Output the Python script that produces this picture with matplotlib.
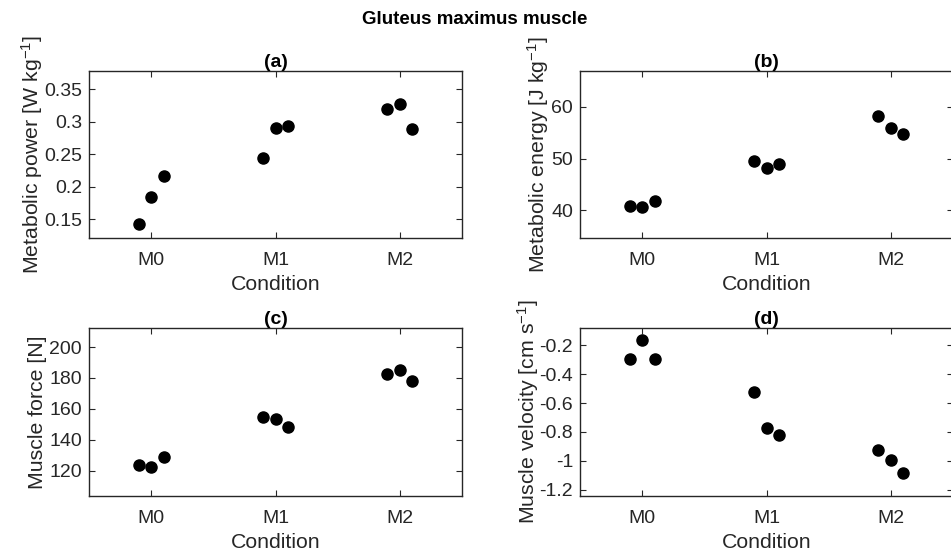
import matplotlib
matplotlib.use("Agg")
import matplotlib.pyplot as plt
import numpy as np

plt.rcParams['font.family'] = ['Liberation Sans', 'DejaVu Sans']
plt.rcParams['mathtext.default'] = 'regular'

conditions = ['M0', 'M1', 'M2']
offsets = [-0.1, 0.0, 0.1]

power = [[0.143, 0.184, 0.217], [0.245, 0.291, 0.294], [0.319, 0.328, 0.289]]
energy = [[40.8, 40.65, 41.75], [49.6, 48.1, 48.9], [58.2, 55.9, 54.7]]
force = [[123.7, 122.0, 128.9], [155.0, 153.3, 148.0], [182.8, 185.0, 178.0]]
velocity = [[-0.293, -0.163, -0.293], [-0.525, -0.773, -0.82], [-0.926, -0.993, -1.084]]

panels = [
    ('(a)', power, 'Metabolic power [W kg$^{-1}$]', (0.1214, 0.378), [0.15, 0.2, 0.25, 0.3, 0.35],
     ['0.15', '0.2', '0.25', '0.3', '0.35']),
    ('(b)', energy, 'Metabolic energy [J kg$^{-1}$]', (34.6, 66.97), [40, 50, 60], ['40', '50', '60']),
    ('(c)', force, 'Muscle force [N]', (103.5, 212.4), [120, 140, 160, 180, 200],
     ['120', '140', '160', '180', '200']),
    ('(d)', velocity, 'Muscle velocity [cm s$^{-1}$]', (-1.242, -0.082), [-1.2, -1, -0.8, -0.6, -0.4, -0.2],
     ['-1.2', '-1', '-0.8', '-0.6', '-0.4', '-0.2']),
]

W, H = 951, 551
fig = plt.figure(figsize=(W / 100, H / 100), dpi=100)
# axes boxes in pixels: left, top, right, bottom
boxes = [(89, 71, 462, 238), (580, 71, 953, 238), (89, 328, 462, 496), (580, 328, 953, 496)]
ylabel_x = [32, 538, 38, 528]
tc = '#262626'
for (title, data, ylabel, ylim, yt, ytl), (l, t, r, b), yx in zip(panels, boxes, ylabel_x):
    ax = fig.add_axes([l / W, 1 - b / H, (r - l) / W, (b - t) / H])
    for i, vals in enumerate(data):
        xs = [i + o for o in offsets]
        ax.plot(xs, vals, 'o', color='black', markersize=8, linestyle='none')
    ax.set_xlim(-0.5, 2.5)
    ax.set_ylim(*ylim)
    ax.set_xticks(range(len(conditions)))
    ax.set_xticklabels(conditions)
    ax.set_yticks(yt)
    ax.set_yticklabels(ytl)
    ax.tick_params(direction='in', top=True, right=True, labelsize=14, colors=tc,
                   length=4, width=0.8, pad=5)
    ax.tick_params(axis='x', pad=10)
    for s in ax.spines.values():
        s.set_color(tc)
        s.set_linewidth(1.0)
    ax.set_title(title, fontsize=14, fontweight='bold', color='black', pad=3)
    ax.set_ylabel(ylabel, fontsize=15.3, color=tc)
    ax.set_xlabel('Condition', fontsize=15.3, color=tc)
    ax.yaxis.label.set_va('center')
    ax.xaxis.label.set_va('center')
    ax.yaxis.set_label_coords((yx - l) / (r - l), 0.5)
    ax.xaxis.set_label_coords(0.5, 1 - (b + 46 - t) / (b - t))

fig.text(475 / W, 1 - 20 / H, 'Gluteus maximus muscle', ha='center', va='center',
         fontsize=13.5, fontweight='bold', color='black')

fig.savefig('out.png', dpi=100, facecolor='white')
